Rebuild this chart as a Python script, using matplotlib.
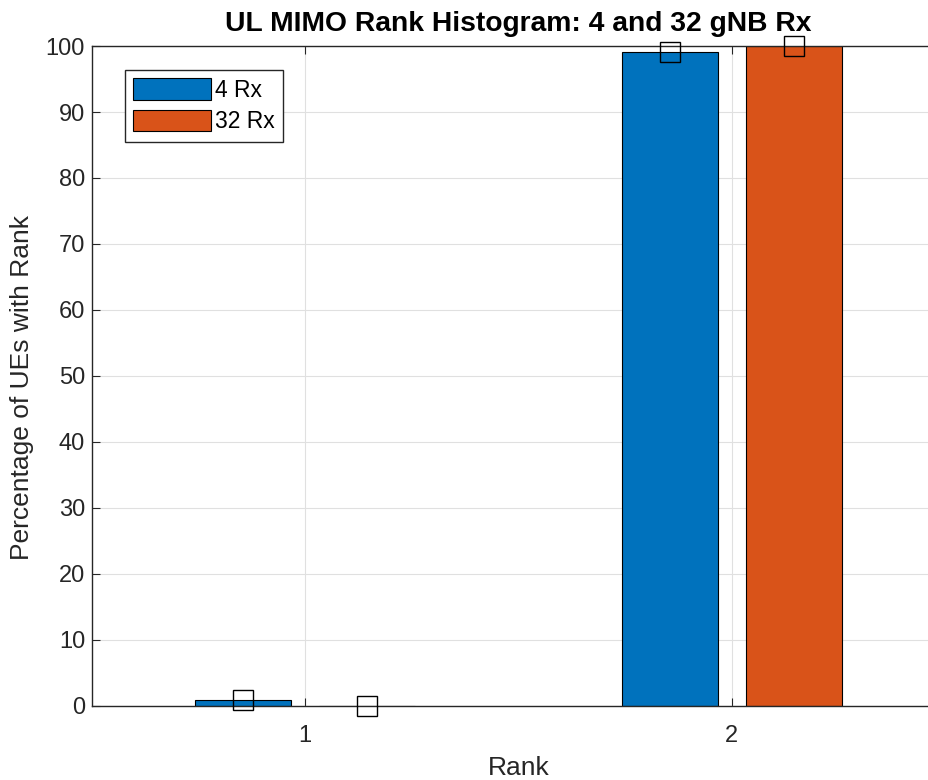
import matplotlib.pyplot as plt
import numpy as np

plt.rcParams['font.family'] = ['Liberation Sans', 'DejaVu Sans']

ranks = [1, 2]
pct_4rx = [0.9, 99.1]
pct_32rx = [0.0, 100.0]
labels = ['4 Rx', '32 Rx']

fig = plt.figure(figsize=(9.29, 7.8), dpi=100)
# axes runs past the right edge of the figure (cropped like the original)
ax = fig.add_axes([0.099, 0.095, 0.9182, 0.846])

x = np.array(ranks)
w = 0.225
off = 0.145
ax.bar(x - off, pct_4rx, w, color='#0072BD', edgecolor='black', linewidth=0.8, label=labels[0], zorder=2)
ax.bar(x + off, pct_32rx, w, color='#D95319', edgecolor='black', linewidth=0.8, label=labels[1], zorder=2)
ax.plot(x - off, pct_4rx, 's', ms=14, mfc='none', mec='black', mew=1.0, zorder=3, clip_on=False)
ax.plot(x + off, pct_32rx, 's', ms=14, mfc='none', mec='black', mew=1.0, zorder=3, clip_on=False)

ax.set_xlim(0.5, 2.5)
ax.set_ylim(0, 100)
ax.set_xticks(ranks)
ax.set_yticks(range(0, 101, 10))
ax.tick_params(direction='in', labelsize=17, colors='#262626', length=6, top=True, right=True)
ax.tick_params(axis='x', pad=14)
ax.tick_params(axis='y', pad=5)
for s in ax.spines.values():
    s.set_color('#262626')
    s.set_linewidth(1.0)
ax.grid(True, color='#e0e0e0', linewidth=0.8, zorder=0)
ax.set_axisbelow(True)

ax.set_title('UL MIMO Rank Histogram: 4 and 32 gNB Rx', fontsize=20.3, fontweight='bold', pad=11)
ax.set_xlabel('Rank', fontsize=19, color='#262626', labelpad=6)
ax.set_ylabel('Percentage of UEs with Rank', fontsize=19, color='#262626')
ax.yaxis.set_label_coords(-0.068, 0.483)

ax.legend(loc='upper left', bbox_to_anchor=(0.0387, 0.9636), fontsize=16.5, fancybox=False,
          edgecolor='#262626', framealpha=1, handlelength=3.4, handleheight=1.05,
          borderpad=0.36, labelspacing=0.36, handletextpad=0.15, borderaxespad=0)

fig.savefig('out.png', dpi=100)
